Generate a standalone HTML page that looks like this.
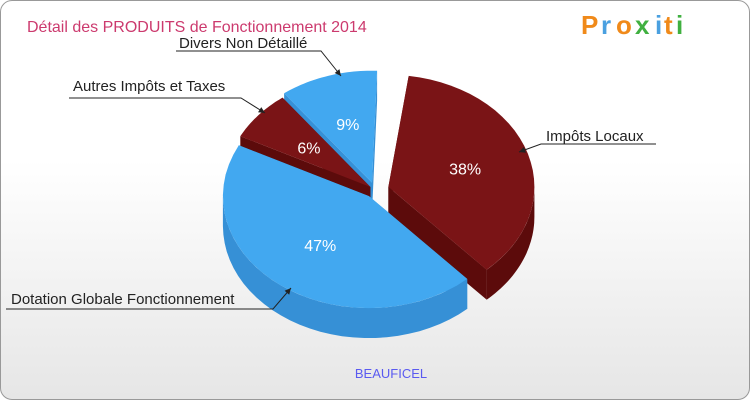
<!DOCTYPE html>
<html><head><meta charset="utf-8"><style>
body{margin:0;width:750px;height:400px;overflow:hidden;font-family:"Liberation Sans",sans-serif}
#wrap{position:absolute;left:0;top:0;width:748px;height:398px;border:1px solid #999;border-radius:12px;background:linear-gradient(#fff 0%,#fff 40%,#e6e6e6 100%);overflow:hidden}
</style></head><body>
<div id="wrap">
<svg id="svg" width="750" height="400" xmlns="http://www.w3.org/2000/svg">
<text x="26" y="31" font-size="16" fill="#cc3a6e">Détail des PRODUITS de Fonctionnement 2014</text>
<g font-size="26" font-weight="bold">
<text x="580" y="33" fill="#f08a1a">P</text><text x="600" y="33" fill="#4aa0e0">r</text><text x="615" y="33" fill="#f08a1a">o</text><text x="634" y="33" fill="#40b040">x</text><text x="654" y="33" fill="#4aa0e0">i</text><text x="663" y="33" fill="#f08a1a">t</text><text x="675" y="33" fill="#40b040">i</text>
</g>
<g id="pie"></g>
<text x="390" y="377" font-size="13" fill="#5a5af0" text-anchor="middle">BEAUFICEL</text>
</svg></div>
<script>
const categories=["Impôts Locaux","Dotation Globale Fonctionnement","Autres Impôts et Taxes","Divers Non Détaillé"];
const values=[38,47,6,9];
const labels=["38%","47%","6%","9%"];
const topColors=["#7a1416","#42a8f0","#7a1416","#42a8f0"];
const sideColors=["#5c0b0b","#3690d6","#5c0b0b","#3690d6"];
const explode=[14,10,6,10];
const cx=374,cy=189,rx=146,ry=112,depth=30,startAngle=-82;
const NS="http://www.w3.org/2000/svg";
const g=document.getElementById('pie');
const total=values.reduce((a,b)=>a+b,0);
const rad=d=>d*Math.PI/180;
function warp(t){const u=t-startAngle;let d;
if(u<=306){const s=Math.sin(rad(u*90/306));d=-17*s*s;}else{d=-17+11*(u-306)/54;}
return t+d;}
let a=startAngle;const sl=[];
values.forEach((v,i)=>{const t1=a,t2=a+v/total*360;a=t2;const a1=warp(t1),a2=warp(t2);const m=rad((a1+a2)/2);
sl.push({i,a1,a2,ox:Math.cos(m)*explode[i],oy:Math.sin(m)*explode[i]*ry/rx});});
function pt(s,ang,dy){return [cx+s.ox+rx*Math.cos(rad(ang)),cy+s.oy+ry*Math.sin(rad(ang))+dy];}
function arc(s,a1,a2,dy,rev){let d="",n=30;for(let k=0;k<=n;k++){const t=rev?a2-(a2-a1)*k/n:a1+(a2-a1)*k/n;const p=pt(s,t,dy);d+=(k?"L":"")+p[0].toFixed(1)+","+p[1].toFixed(1);}return d;}
function add(d,fill,name){const p=document.createElementNS(NS,'path');p.setAttribute('d',d);p.setAttribute('fill',fill);


g.appendChild(p);}
const order=[3,2,0,1];
order.forEach(idx=>{const s=sl[idx];const c=[cx+s.ox,cy+s.oy];
[s.a1,s.a2].forEach(an=>{const p=pt(s,an,0);add(`M${c[0]},${c[1]}L${p[0]},${p[1]}L${p[0]},${p[1]+depth}L${c[0]},${c[1]+depth}Z`,sideColors[idx],'slice-wall-'+idx);});
for(let off=-360;off<=360;off+=360){const lo=Math.max(s.a1,0+off),hi=Math.min(s.a2,180+off);
if(hi>lo){add("M"+arc(s,lo,hi,0,false)+"L"+arc(s,lo,hi,depth,true)+"Z",sideColors[idx],'slice-side-'+idx);}}
add(`M${c[0]},${c[1]}L`+arc(s,s.a1,s.a2,0,false)+"Z",topColors[idx],'slice-'+idx);
const m=rad((s.a1+s.a2)/2);const lx=c[0]+Math.cos(m)*rx*0.55,ly=c[1]+Math.sin(m)*ry*0.55;
const t=document.createElementNS(NS,'text');t.setAttribute('x',lx);t.setAttribute('y',ly+6);t.setAttribute('fill','#fff');t.setAttribute('font-size','16');t.setAttribute('text-anchor','middle');t.textContent=labels[idx];


g.appendChild(t);});
const leaders=[[545,140,[[655,143],[540,143],[518,151]],0],[10,303,[[5,308],[272,308],[290,287]],1],[72,90,[[68,97],[240,97],[264,112]],2],[178,47,[[175,50],[320,50],[340,75]],3]];
leaders.forEach(L=>{const pl=document.createElementNS(NS,'polyline');pl.setAttribute('points',L[2].map(p=>p.join(',')).join(' '));pl.setAttribute('fill','none');pl.setAttribute('stroke','#222');


g.appendChild(pl);const e=L[2][2],b=L[2][1];const ang=Math.atan2(e[1]-b[1],e[0]-b[0]);
const ah=document.createElementNS(NS,'path');const s=7;
ah.setAttribute('d',`M${e[0]},${e[1]}L${e[0]-s*Math.cos(ang-0.45)},${e[1]-s*Math.sin(ang-0.45)}L${e[0]-s*Math.cos(ang+0.45)},${e[1]-s*Math.sin(ang+0.45)}Z`);ah.setAttribute('fill','#222');


g.appendChild(ah);
const t=document.createElementNS(NS,'text');t.setAttribute('x',L[0]);t.setAttribute('y',L[1]);t.setAttribute('font-size','15');t.setAttribute('fill','#222');t.textContent=categories[L[3]];


g.appendChild(t);});
</script>
</body></html>
